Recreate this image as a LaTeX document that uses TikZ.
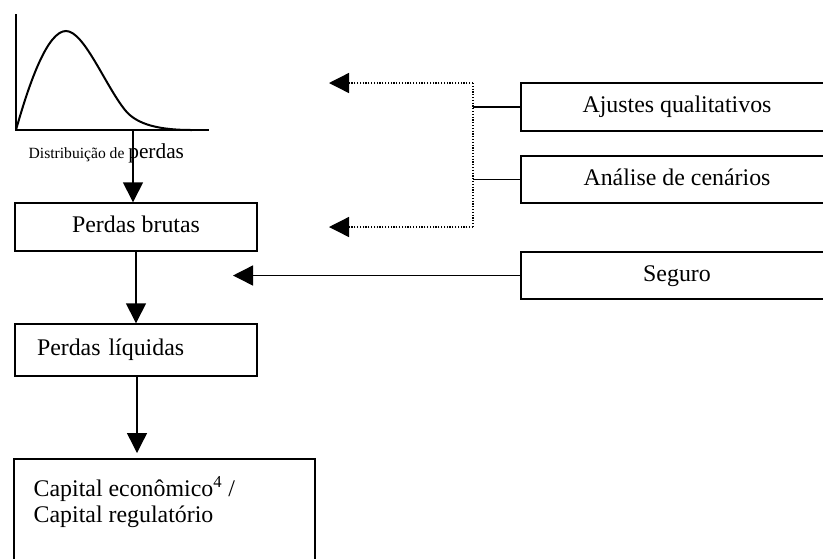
\documentclass[tikz,border=0pt]{standalone}
\usepackage{fontspec}
\setmainfont{Liberation Serif}
\usetikzlibrary{arrows.meta}
\begin{document}
\begin{tikzpicture}[x=0.75pt,y=-0.75pt,
  line width=1.05pt,
  box/.style={draw,line width=1.05pt,inner sep=0pt,font=\fontsize{17.9}{21}\selectfont,
     text height=0.85em,text depth=0pt},
  arr/.style={-{Triangle[length=15pt,width=15pt]}},
  dotline/.style={line width=1pt,dash pattern=on 0.9pt off 1.2pt}]
\clip (0,0) rectangle (823,558);
% distribution graph
\draw (16,14) -- (16,130) -- (209,130);
\draw[line width=1.5pt] (16,130) .. controls (30,80) and (48,31) .. (66,31)
  .. controls (84,31) and (105,85) .. (125,110)
  .. controls (137,125) and (160,130) .. (192,130);
\coordinate (dist) at (133,130);
\node[anchor=base west,inner sep=0pt] (distlbl) at (28,158)
  {{\fontsize{11.7}{14}\selectfont Distribuição de }{\fontsize{16}{19}\selectfont perdas}};
% left column
\node[box,minimum width=181.5pt,minimum height=36pt] (brutas) at (136,227) {Perdas brutas};
\node[box,minimum width=181.5pt,minimum height=39pt,text width=148.5pt,inner xsep=16.5pt,align=left] (liquidas) at (136,350) {Perdas líquidas};
\node[draw,line width=1.05pt,minimum width=225.75pt,minimum height=83.25pt,inner sep=0pt] (capital) at (164.5,514.5) {};
\node[anchor=base west,inner sep=0pt,align=left,font=\fontsize{17.9}{19.5}\selectfont] (capitaltxt) at (33,522)
  {Capital econômico\textsuperscript{4} /\\Capital regulatório};
% right column
\node[box,minimum width=234pt,minimum height=36pt] (ajustes) at (677,107) {Ajustes qualitativos};
\node[box,minimum width=234pt,minimum height=35.25pt] (analise) at (677,179.5) {Análise de cenários};
\node[box,minimum width=234pt,minimum height=35.25pt] (seguro) at (677,275.5) {Seguro};
% connectors
\draw[arr] (dist) -- (dist |- brutas.north);
\draw[arr] (brutas.south) -- (liquidas.north);
\coordinate (capin) at (137,453);
\draw[arr] (liquidas.south -| capin) -- (capin);
\coordinate (jA) at (473,107);
\coordinate (jB) at (473,179.5);
\coordinate (dtop) at (473,83);
\coordinate (dbot) at (473,227);
\coordinate (atop) at (329,83);
\coordinate (abot) at (329,227);
\draw (ajustes.west) -- (jA);
\draw (analise.west) -- (jB);
\draw[dotline] (dtop) -- (dbot);
\draw[dotline,arr] (dtop) -- (atop);
\draw[dotline,arr] (dbot) -- (abot);
\coordinate (segtip) at (233,275.5);
\draw[arr] (seguro.west) -- (segtip);
\end{tikzpicture}
\end{document}
